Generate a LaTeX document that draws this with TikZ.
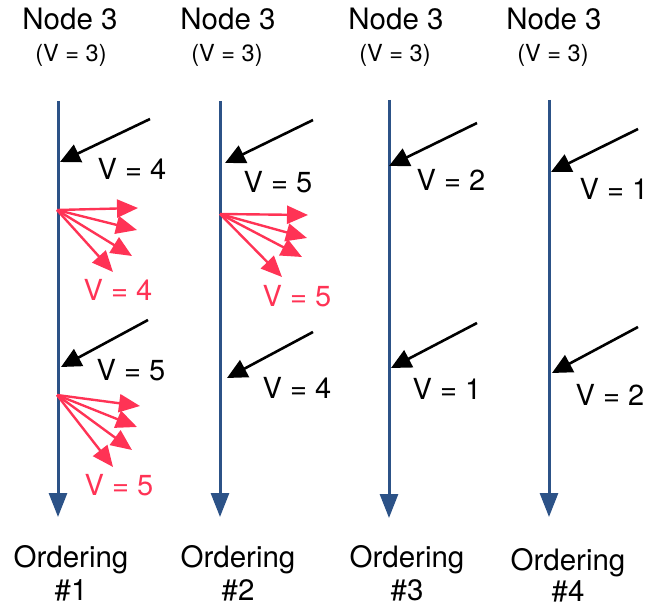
\documentclass[tikz,border=0pt]{standalone}
\usepackage{fontspec}
\setmainfont{TeX Gyre Heros}
\usetikzlibrary{arrows.meta}
\definecolor{lineblue}{RGB}{44,82,135}
\definecolor{fanred}{RGB}{255,51,85}
\tikzset{
  x=1pt, y=-1pt,
  timeline/.style={draw=lineblue, line width=3pt, -{Triangle[length=24pt,width=18pt]}},
  msgarrow/.style={draw=black, line width=2.6pt, -{Triangle[length=20pt,width=19pt]}},
  fanarrow/.style={draw=fanred, line width=2.4pt, -{Triangle[length=21pt,width=18pt]}},
  titletext/.style={anchor=base, inner sep=0pt, font=\fontsize{29.5}{34}\selectfont},
  subtext/.style={anchor=base, inner sep=0pt, font=\fontsize{23.5}{28}\selectfont},
  vlabel/.style={anchor=base, inner sep=0pt, font=\fontsize{29}{34}\selectfont},
  redlabel/.style={anchor=base, inner sep=0pt, text=fanred, font=\fontsize{29}{34}\selectfont},
  ordtext/.style={anchor=base, inner sep=0pt, font=\fontsize{29.5}{34}\selectfont},
}
\begin{document}
\begin{tikzpicture}
\useasboundingbox (0,0) rectangle (651,607);
% ---------- titles ----------
\node[titletext] (t1) at (70,30) {Node 3};
\node[subtext] (s1) at (71,62) {(V = 3)};
\node[titletext] (t2) at (228,30) {Node 3};
\node[subtext] (s2) at (227,62) {(V = 3)};
\node[titletext] (t3) at (396,30) {Node 3};
\node[subtext] (s3) at (395,62) {(V = 3)};
\node[titletext] (t4) at (554,30) {Node 3};
\node[subtext] (s4) at (553,62) {(V = 3)};
% ---------- timelines ----------
\coordinate (l1s) at (58,101);  \coordinate (l1e) at (58,517);
\coordinate (l2s) at (220,101); \coordinate (l2e) at (220,517);
\coordinate (l3s) at (389,100); \coordinate (l3e) at (389,518);
\coordinate (l4s) at (549,100); \coordinate (l4e) at (549,517);
\draw[timeline] (l1s) -- (l1e);
\draw[timeline] (l2s) -- (l2e);
\draw[timeline] (l3s) -- (l3e);
\draw[timeline] (l4s) -- (l4e);
% ---------- column 1 ----------
\coordinate (a1s) at (150,119); \coordinate (a1e) at (60,162);
\draw[msgarrow] (a1s) -- (a1e);
\node[vlabel] (v1a) at (132,180) {V = 4};
\coordinate (f1o) at (57,210);
\coordinate (f1a) at (138,208); \coordinate (f1b) at (137,230);
\coordinate (f1c) at (132,256); \coordinate (f1d) at (113,272);
\draw[fanarrow] (f1o) -- (f1a);
\draw[fanarrow] (f1o) -- (f1b);
\draw[fanarrow] (f1o) -- (f1c);
\draw[fanarrow] (f1o) -- (f1d);
\node[redlabel] (r1a) at (118,300) {V = 4};
\coordinate (b1s) at (148,320); \coordinate (b1e) at (61,367);
\draw[msgarrow] (b1s) -- (b1e);
\node[vlabel] (v1b) at (131,380) {V = 5};
\coordinate (f2o) at (57,395);
\coordinate (f2a) at (140,406); \coordinate (f2b) at (137,427);
\coordinate (f2c) at (132,450); \coordinate (f2d) at (113,467);
\draw[fanarrow] (f2o) -- (f2a);
\draw[fanarrow] (f2o) -- (f2b);
\draw[fanarrow] (f2o) -- (f2c);
\draw[fanarrow] (f2o) -- (f2d);
\node[redlabel] (r1b) at (119,495) {V = 5};
% ---------- column 2 ----------
\coordinate (a2s) at (313,120); \coordinate (a2e) at (225,163);
\draw[msgarrow] (a2s) -- (a2e);
\node[vlabel] (v2a) at (278,193) {V = 5};
\coordinate (f3o) at (220,214);
\coordinate (f3a) at (308,215); \coordinate (f3b) at (307,238);
\coordinate (f3c) at (302,257); \coordinate (f3d) at (282,277);
\draw[fanarrow] (f3o) -- (f3a);
\draw[fanarrow] (f3o) -- (f3b);
\draw[fanarrow] (f3o) -- (f3c);
\draw[fanarrow] (f3o) -- (f3d);
\node[redlabel] (r2a) at (297,306) {V = 5};
\coordinate (b2s) at (313,332); \coordinate (b2e) at (227,378);
\draw[msgarrow] (b2s) -- (b2e);
\node[vlabel] (v2b) at (297,398) {V = 4};
% ---------- column 3 ----------
\coordinate (a3s) at (477,123); \coordinate (a3e) at (389,166);
\draw[msgarrow] (a3s) -- (a3e);
\node[vlabel] (v3a) at (451,190) {V = 2};
\coordinate (b3s) at (477,323); \coordinate (b3e) at (391,368);
\draw[msgarrow] (b3s) -- (b3e);
\node[vlabel] (v3b) at (447,399) {V = 1};
% ---------- column 4 ----------
\coordinate (a4s) at (638,129); \coordinate (a4e) at (551,172);
\draw[msgarrow] (a4s) -- (a4e);
\node[vlabel] (v4a) at (614,200) {V = 1};
\coordinate (b4s) at (638,327); \coordinate (b4e) at (552,373);
\draw[msgarrow] (b4s) -- (b4e);
\node[vlabel] (v4b) at (610,405) {V = 2};
% ---------- orderings ----------
\node[ordtext] (o1) at (71,567) {Ordering};
\node[ordtext] (n1) at (71,600) {\#1};
\node[ordtext] (o2) at (238,567) {Ordering};
\node[ordtext] (n2) at (238,600) {\#2};
\node[ordtext] (o3) at (407,567) {Ordering};
\node[ordtext] (n3) at (407,600) {\#3};
\node[ordtext] (o4) at (568,570) {Ordering};
\node[ordtext] (n4) at (568,601) {\#4};
\end{tikzpicture}
\end{document}
